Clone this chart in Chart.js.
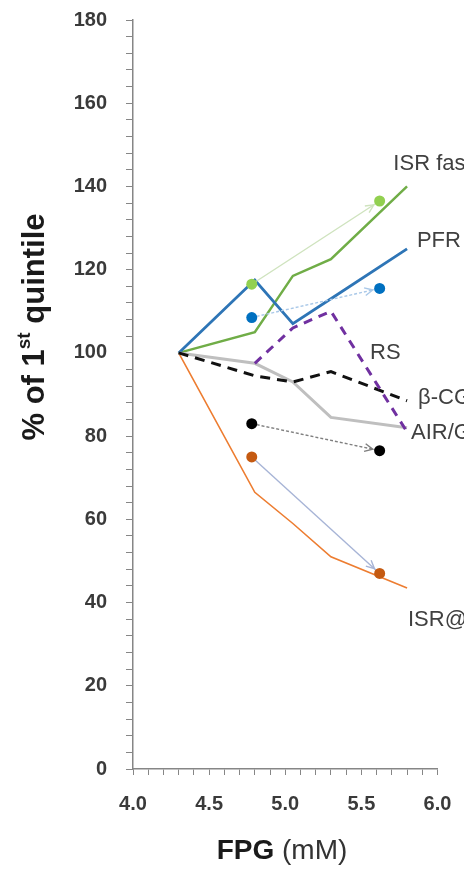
<!DOCTYPE html>
<html lang="en">
<head>
<meta charset="UTF-8" />
<title>FPG quintiles</title>
<script src="https://cdn.jsdelivr.net/npm/chart.js"></script>
<style>
  html, body { margin: 0; padding: 0; background: #fff; }
  .wrap { width: 464px; height: 871px; position: relative; }
</style>
</head>
<body>
<div class="wrap"><canvas id="fpgChart"></canvas></div>
<script>
  // FPG quintile means (mM)
  const fpg = [4.3, 4.8, 5.05, 5.3, 5.8];
  // % of 1st quintile, one array per measure
  const isrFasting = [100, 105, 118.5, 122.5, 140];
  const pfr = [100, 117.5, 107, 113, 125];
  const rs = [null, 97.5, 106, 110, 81];
  const betaCgs = [100, 94.5, 93, 95.5, 88.5];
  const airG = [100, 97.5, 93, 84.5, 82];
  const isrAt = [100, 66.5, 59, 51, 43.5];

  // two-point comparisons drawn as dots joined by arrows
  const dotX = [4.78, 5.62];
  const greenDots = [116.5, 136.5];
  const blueDots = [108.5, 115.5];
  const blackDots = [83, 76.5];
  const orangeDots = [75, 47];

  const seriesNames = ['ISR fasting', 'PFR', 'RS', 'β-CGS', 'AIR/G', 'ISR@5mM'];

  const toPts = (xs, ys) => xs.map((x, i) => ({ x: x, y: ys[i] })).filter(p => p.y !== null);

  function line(label, ys, color, width, dash, order) {
    return {
      label: label, data: toPts(fpg, ys), showLine: true,
      borderColor: color, borderWidth: width, borderDash: dash || [],
      pointRadius: 0, order: order, tension: 0
    };
  }
  function dots(label, ys, color) {
    return {
      label: label, data: toPts(dotX, ys), showLine: false,
      pointRadius: 5.5, pointBackgroundColor: color, pointBorderWidth: 0, order: 0
    };
  }
  function arrow(label, ys, color, dash) {
    return {
      label: label, data: toPts(dotX, ys), showLine: true,
      borderColor: color, borderWidth: 1.4, borderDash: dash || [],
      pointRadius: 0, order: 1, arrow: true
    };
  }

  const datasets = [
    line(seriesNames[0], isrFasting, '#70AD47', 2.5, null, 6),
    line(seriesNames[1], pfr, '#2E75B6', 2.8, null, 5),
    line(seriesNames[2], rs, '#7030A0', 3, [9, 7], 3),
    line(seriesNames[3], betaCgs, '#111111', 3, [10, 7], 3),
    line(seriesNames[4], airG, '#BFBFBF', 3, null, 4),
    line(seriesNames[5], isrAt, '#ED7D31', 1.6, null, 6),
    arrow('ISR fasting change', greenDots, '#CFE3BE'),
    arrow('PFR change', blueDots, '#A9C8E8', [3, 2]),
    arrow('β change', blackDots, '#7F7F7F', [3, 2]),
    arrow('ISR@ change', orangeDots, '#A7B4D6'),
    dots('ISR fasting pts', greenDots, '#92D050'),
    dots('PFR pts', blueDots, '#0070C0'),
    dots('β pts', blackDots, '#000000'),
    dots('ISR@ pts', orangeDots, '#C55A11')
  ];

  const annot = {
    id: 'annot',
    afterDatasetsDraw(chart) {
      const ctx = chart.ctx, x = chart.scales.x, y = chart.scales.y;
      ctx.save();
      // arrow heads just before the second dot
      chart.data.datasets.forEach(ds => {
        if (!ds.arrow) return;
        const a = ds.data[0], b = ds.data[1];
        const x1 = x.getPixelForValue(a.x), y1 = y.getPixelForValue(a.y);
        const x2 = x.getPixelForValue(b.x), y2 = y.getPixelForValue(b.y);
        const ang = Math.atan2(y2 - y1, x2 - x1);
        const tx = x2 - Math.cos(ang) * 7, ty = y2 - Math.sin(ang) * 7;
        ctx.strokeStyle = ds.borderColor;
        ctx.lineWidth = 1.4;
        ctx.setLineDash([]);
        ctx.beginPath();
        ctx.moveTo(tx - 9 * Math.cos(ang - 0.45), ty - 9 * Math.sin(ang - 0.45));
        ctx.lineTo(tx, ty);
        ctx.lineTo(tx - 9 * Math.cos(ang + 0.45), ty - 9 * Math.sin(ang + 0.45));
        ctx.stroke();
      });
      // series names at the right
      const spots = [[5.71, 145.5], [5.865, 127], [5.557, 100], [5.872, 89.2], [5.826, 80.7], [5.806, 35.8]];
      ctx.fillStyle = '#404040';
      ctx.font = '22px "Liberation Sans", Arial, sans-serif';
      ctx.textAlign = 'left';
      ctx.textBaseline = 'middle';
      seriesNames.forEach((n, i) => {
        ctx.fillText(n, x.getPixelForValue(spots[i][0]), y.getPixelForValue(spots[i][1]));
      });
      ctx.restore();
    },
    afterDraw(chart) {
      const ctx = chart.ctx;
      ctx.save();
      ctx.fillStyle = '#1a1a1a';
      ctx.textBaseline = 'middle';
      // x axis title: bold "FPG" + normal "(mM)"
      const big = '"Liberation Sans", Arial, sans-serif';
      ctx.font = 'bold 28px ' + big;
      const w1 = ctx.measureText('FPG').width;
      ctx.font = '28px ' + big;
      const w2 = ctx.measureText(' (mM)').width;
      let sx = 282 - (w1 + w2) / 2;
      ctx.font = 'bold 28px ' + big;
      ctx.textAlign = 'left';
      ctx.fillText('FPG', sx, 851);
      ctx.font = '28px ' + big;
      ctx.fillStyle = '#333333';
      ctx.fillText(' (mM)', sx + w1, 851);
      // y axis title with superscript
      ctx.fillStyle = '#1a1a1a';
      ctx.translate(35, 327);
      ctx.rotate(-Math.PI / 2);
      const mainF = 'bold 31px ' + big, supF = 'bold 19px ' + big;
      ctx.font = mainF; const a1 = ctx.measureText('% of 1').width;
      ctx.font = supF; const a2 = ctx.measureText('st').width;
      ctx.font = mainF; const a3 = ctx.measureText(' quintile').width;
      let px = -(a1 + a2 + a3) / 2;
      ctx.font = mainF; ctx.fillText('% of 1', px, 0);
      ctx.font = supF; ctx.fillText('st', px + a1, -10);
      ctx.font = mainF; ctx.fillText(' quintile', px + a1 + a2, 0);
      ctx.restore();
    }
  };

  const axisColor = '#868686';
  const tickFont = { family: '"Liberation Sans", Arial, sans-serif', size: 20, weight: 'bold' };

  new Chart(document.getElementById('fpgChart'), {
    type: 'scatter',
    data: { datasets: datasets },
    options: {
      responsive: true,
      maintainAspectRatio: false,
      animation: false,
      layout: { padding: { left: 0, right: 26.5, top: 20, bottom: 0 } },
      plugins: { legend: { display: false }, tooltip: { enabled: false } },
      scales: {
        x: {
          type: 'linear', min: 4, max: 6,
          afterFit: s => { s.height = 102; s.paddingLeft = 0; s.paddingRight = 0; },
          border: { color: axisColor, width: 1.5 },
          grid: { drawOnChartArea: false, tickLength: 6, color: axisColor },
          ticks: {
            stepSize: 0.1, autoSkip: false, maxRotation: 0, padding: 17,
            color: '#3a3a3a', font: tickFont,
            callback: v => (Math.round(v * 10) % 5 === 0 ? v.toFixed(1) : '')
          }
        },
        y: {
          min: 0, max: 180,
          afterFit: s => { s.width = 133; s.paddingTop = 0; s.paddingBottom = 0; },
          border: { color: axisColor, width: 1.5 },
          grid: { drawOnChartArea: false, tickLength: 7, color: axisColor },
          ticks: {
            stepSize: 4, autoSkip: false, padding: 19,
            color: '#3a3a3a', font: tickFont,
            callback: v => (v % 20 === 0 ? v : '')
          }
        }
      }
    },
    plugins: [annot]
  });
</script>
</body>
</html>
